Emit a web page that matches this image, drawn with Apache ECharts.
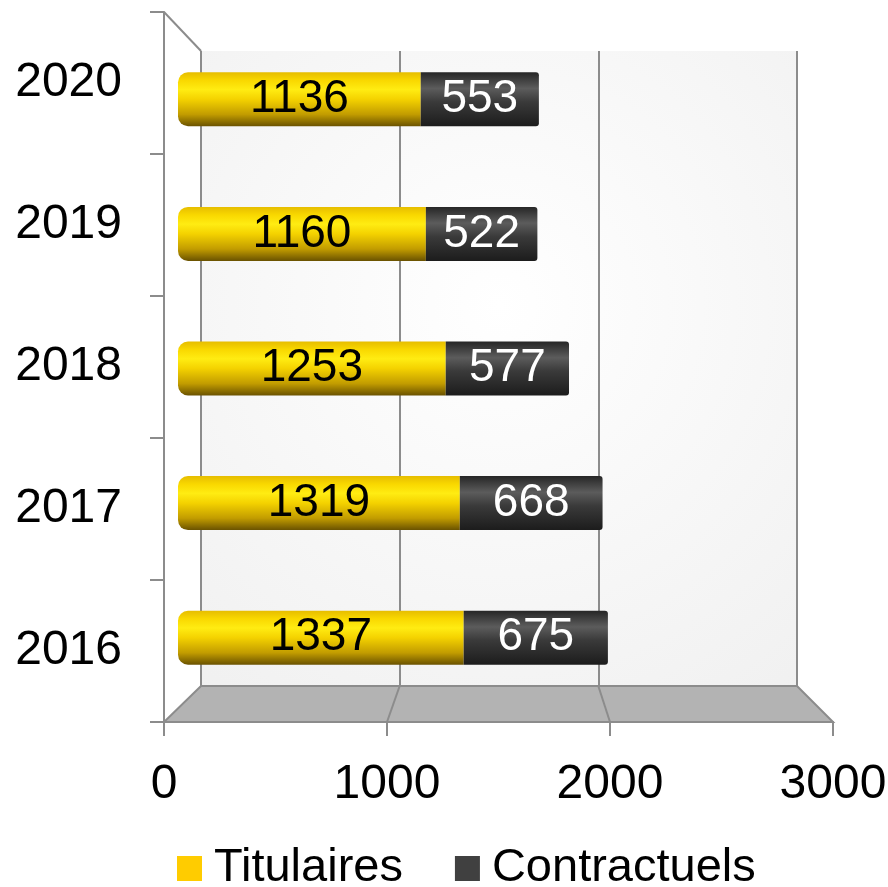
<!DOCTYPE html>
<html>
<head>
<meta charset="utf-8">
<script src="https://cdn.jsdelivr.net/npm/echarts@6/dist/echarts.min.js"></script>
<style>html,body{margin:0;padding:0;background:#fff;overflow:hidden;}#c{width:888px;height:887px;}</style>
</head>
<body>
<div id="c"></div>
<script>
const years = ['2016', '2017', '2018', '2019', '2020'];
const titulaires = [1337, 1319, 1253, 1160, 1136];
const contractuels = [675, 668, 577, 522, 553];
const seriesNames = ['Titulaires', 'Contractuels'];
const xMin = 0, xMax = 3000, xStep = 1000;
const gridTicks = [1000, 2000];

const W = 888, H = 887;
const FRONT = {left: 164, right: 55, top: 12, bottom: 165};
const BACK = {left: 201, right: 91, top: 51, bottom: 201};
const BARS = {left: 178, right: 69, top: 32, bottom: 182};
const FONT = '"Liberation Sans", Arial, sans-serif';

const chart = echarts.init(document.getElementById('c'), null, {renderer: 'canvas'});

const yellowGrad = new echarts.graphic.LinearGradient(0, 0, 0, 1, [
  {offset: 0, color: '#e6bd00'},
  {offset: 0.15, color: '#f9d800'},
  {offset: 0.32, color: '#ffec12'},
  {offset: 0.5, color: '#f4d200'},
  {offset: 0.78, color: '#c29c00'},
  {offset: 1, color: '#6a5200'}
]);
const darkGrad = new echarts.graphic.LinearGradient(0, 0, 0, 1, [
  {offset: 0, color: '#262626'},
  {offset: 0.3, color: '#5c5c5c'},
  {offset: 0.55, color: '#3a3a3a'},
  {offset: 1, color: '#1c1c1c'}
]);

const option = {
  animation: false,
  backgroundColor: '#ffffff',
  legend: {
    bottom: -10,
    left: 172,
    icon: 'rect',
    itemWidth: 25,
    itemHeight: 25,
    itemGap: 52,
    textStyle: {fontSize: 47, fontFamily: FONT, color: '#000', padding: [0, 0, 0, 7]},
    data: [
      {name: seriesNames[0], itemStyle: {color: '#ffcc00'}},
      {name: seriesNames[1], itemStyle: {color: '#404040'}}
    ]
  },
  grid: [
    Object.assign({show: false, outerBoundsMode: 'none', containLabel: false}, FRONT),
    Object.assign({
      show: true, borderWidth: 0, outerBoundsMode: 'none', containLabel: false,
      backgroundColor: {
        type: 'radial', x: 0.5, y: 0.4, r: 0.9,
        colorStops: [{offset: 0, color: '#ffffff'}, {offset: 1, color: '#efefef'}]
      }
    }, BACK),
    Object.assign({show: false, outerBoundsMode: 'none', containLabel: false}, BARS)
  ],
  xAxis: [
    {
      gridIndex: 0, type: 'value', min: xMin, max: xMax, interval: xStep,
      axisLine: {show: true, lineStyle: {color: '#8c8c8c', width: 2}},
      axisTick: {show: true, length: 14, lineStyle: {color: '#8c8c8c', width: 2}},
      axisLabel: {fontSize: 48, fontFamily: FONT, color: '#000', margin: 39, formatter: v => String(v)},
      splitLine: {show: false}
    },
    {
      gridIndex: 1, type: 'value', min: xMin, max: xMax, interval: xStep,
      axisLine: {show: false}, axisTick: {show: false}, axisLabel: {show: false},
      splitLine: {show: true, lineStyle: {color: '#8c8c8c', width: 2}}
    },
    {
      gridIndex: 2, type: 'value', min: xMin, max: xMax, interval: xStep,
      show: false
    }
  ],
  yAxis: [
    {
      gridIndex: 0, type: 'category', data: years,
      axisLine: {show: true, lineStyle: {color: '#8c8c8c', width: 2}},
      axisTick: {show: true, length: 14, lineStyle: {color: '#8c8c8c', width: 2}},
      axisLabel: {fontSize: 48, fontFamily: FONT, color: '#000', margin: 42, padding: [8, 0, 0, 0]},
      splitLine: {show: false}
    },
    {gridIndex: 1, type: 'category', data: years, show: false},
    {gridIndex: 2, type: 'category', data: years, show: false}
  ],
  series: [
    {
      name: seriesNames[0], type: 'bar', stack: 'total',
      xAxisIndex: 2, yAxisIndex: 2, barWidth: 54, z: 5,
      data: titulaires,
      itemStyle: {color: yellowGrad, borderRadius: [10, 0, 0, 10]},
      label: {show: true, position: 'inside', fontSize: 46, fontFamily: FONT, color: '#000'}
    },
    {
      name: seriesNames[1], type: 'bar', stack: 'total',
      xAxisIndex: 2, yAxisIndex: 2, barWidth: 54, z: 5,
      data: contractuels,
      itemStyle: {color: darkGrad, borderRadius: [0, 3, 3, 0]},
      label: {show: true, position: 'inside', fontSize: 46, fontFamily: FONT, color: '#fff'}
    }
  ]
};
chart.setOption(option);

// 3D decorations (floor, wall edge) derived from the front and back axes
const xf = v => chart.convertToPixel({xAxisIndex: 0}, v);
const xb = v => chart.convertToPixel({xAxisIndex: 1}, v);
const yFront = H - FRONT.bottom, yBack = H - BACK.bottom;
const lineStyle = {stroke: '#8c8c8c', lineWidth: 2};
const graphics = [
  {
    type: 'polygon', z: 1,
    shape: {points: [[xf(xMin), yFront], [xf(xMax), yFront], [xb(xMax), yBack], [xb(xMin), yBack]]},
    style: {fill: '#b3b3b3', stroke: '#8c8c8c', lineWidth: 2}
  },
  {
    type: 'line', z: 1,
    shape: {x1: xf(xMin), y1: FRONT.top, x2: xb(xMin), y2: BACK.top},
    style: lineStyle
  }
];
gridTicks.forEach(v => {
  graphics.push({
    type: 'line', z: 1,
    shape: {x1: xf(v), y1: yFront, x2: xb(v), y2: yBack},
    style: lineStyle
  });
});
chart.setOption({graphic: graphics});
</script>
</body>
</html>
